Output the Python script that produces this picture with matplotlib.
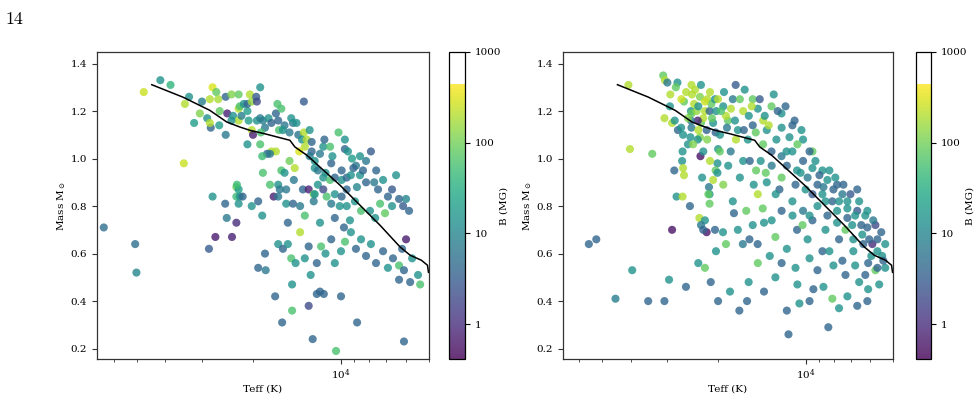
import numpy as np
import matplotlib
matplotlib.use("Agg")
import matplotlib.pyplot as plt
from matplotlib.colors import LogNorm, ListedColormap
from matplotlib.ticker import FixedLocator, FixedFormatter, NullLocator, NullFormatter

plt.rcParams['font.family'] = ['DejaVu Serif']
plt.rcParams['mathtext.fontset'] = 'dejavuserif'

# model track (Teff in K, mass in Msun)
curve_teff = [44400, 34800, 28100, 24600, 22200, 20500, 18300, 14960, 14380, 13080,
              10080, 7350, 6280, 5800, 5310, 5060, 5020]
curve_mass = [1.311, 1.259, 1.203, 1.154, 1.133, 1.119, 1.105, 1.077, 1.049, 1.014,
              0.888, 0.719, 0.628, 0.593, 0.572, 0.551, 0.521]

# left panel sample
left_teff = [64800, 47300, 41500, 38300, 34200, 33100, 31800, 34500, 30400, 29900,
             28700, 27900, 28100, 28100, 27500, 26700, 26300, 26000, 26100, 24800,
             24500, 24800, 23700, 23400, 22400, 22400, 22400, 27500, 24900, 24600,
             22800, 22800, 22400, 22400, 22800, 26900, 23600, 50600, 50100, 28300,
             23700, 22200, 21900, 21500, 20900, 20900, 20500, 20200, 20700, 20200,
             20000, 19500, 19400, 18900, 20900, 19400, 18900, 18500, 18200, 18800,
             18900, 17700, 17300, 16700, 16500, 16400, 16000, 15600, 16300, 15800,
             15000, 14600, 14800, 14200, 13400, 14000, 13400, 13600, 13100, 13300,
             13900, 16700, 17300, 17900, 17500, 18600, 15000, 16000, 15600, 14400,
             18500, 17500, 16400, 16200, 15400, 14500, 13500, 12900, 12400, 22700,
             22200, 21700, 20200, 19200, 17000, 16400, 15400, 14600, 13800, 12800,
             12600, 12600, 12800, 12300, 12300, 11800, 12000, 11500, 11400, 11300,
             10900, 10800, 10700, 10200, 9700, 9700, 11500, 10900, 10500, 9950,
             9950, 9560, 9560, 10500, 11200, 9950, 12000, 11500, 12300, 12400,
             10800, 10100, 9560, 6090, 10400, 12500, 8810, 15900, 16800,
             9470, 9170, 8890, 8610, 8410, 8820, 8210, 7900, 7700, 7470,
             7180, 6910, 6690, 6330, 6130, 5990, 5850, 6690, 7350, 7960,
             8540, 8960, 9320, 9770, 7640, 7070, 9070, 8610, 8210, 9250,
             7580, 6480, 18200, 19200, 18100, 16400, 15800, 15200, 14800, 14300,
             13800, 13300, 12900, 12700, 12100, 11700, 11300, 10800, 10500, 10000,
             9690, 9250, 8890, 8540, 8210, 7900, 7590, 7180, 6910, 6640,
             6330, 6090, 5990, 5710, 6330, 5800, 5450, 6180, 11800, 11450,
             12100, 10000, 12900, 14700, 5360, 14700, 18600, 15200, 13300, 11800,
             10500]
left_mass = [0.71, 1.28, 1.33, 1.31, 1.23, 1.26, 1.15, 0.98, 1.19, 1.24,
             1.17, 1.13, 1.15, 1.25, 1.30, 1.28, 1.25, 1.20, 1.14, 1.26,
             1.19, 1.10, 1.27, 1.18, 1.27, 1.16, 1.21, 0.84, 0.81, 0.75,
             0.88, 0.84, 0.87, 0.81, 0.73, 0.67, 0.67, 0.64, 0.52, 0.62,
             1.16, 1.22, 1.18, 1.23, 1.20, 1.23, 1.27, 1.24, 1.16, 1.12,
             1.10, 1.26, 1.24, 1.30, 1.06, 1.16, 1.17, 1.16, 1.13, 1.11,
             1.06, 1.17, 1.15, 1.19, 1.23, 1.16, 1.21, 1.14, 1.12, 1.12,
             1.11, 1.15, 1.17, 1.15, 1.24, 1.10, 1.11, 1.08, 1.08, 1.05,
             1.03, 1.03, 1.03, 1.02, 1.02, 1.01, 0.99, 0.95, 0.94, 0.96,
             0.94, 0.89, 0.89, 0.87, 0.87, 0.91, 0.87, 0.87, 0.85, 0.89,
             0.84, 0.84, 0.80, 0.82, 0.84, 0.84, 0.81, 0.81, 0.80, 1.12,
             1.03, 1.07, 1.01, 0.99, 0.96, 1.02, 0.95, 1.05, 1.08, 0.94,
             1.05, 0.98, 1.01, 1.11, 1.04, 1.08, 0.92, 0.91, 0.92, 0.95,
             0.91, 0.92, 0.87, 0.85, 0.84, 0.84, 0.89, 0.87, 0.85, 0.82,
             0.81, 0.80, 0.80, 0.23, 0.19, 0.24, 0.31, 0.31, 0.42,
             1.03, 1.00, 0.97, 0.93, 0.95, 0.88, 0.90, 1.03, 0.90, 0.87,
             0.91, 0.84, 0.87, 0.83, 0.80, 0.83, 0.78, 0.80, 0.81, 0.78,
             0.78, 0.82, 0.74, 0.71, 0.75, 0.77, 0.96, 1.01, 0.99, 0.93,
             0.95, 0.93, 0.60, 0.54, 0.53, 0.64, 0.62, 0.64, 0.58, 0.56,
             0.69, 0.58, 0.63, 0.51, 0.56, 0.63, 0.60, 0.66, 0.56, 0.61,
             0.65, 0.69, 0.62, 0.66, 0.59, 0.64, 0.56, 0.61, 0.54, 0.58,
             0.55, 0.53, 0.66, 0.58, 0.49, 0.48, 0.51, 0.62, 0.44, 0.43,
             0.43, 0.42, 0.38, 0.36, 0.47, 0.47, 0.76, 0.73, 0.76, 0.73,
             0.75]
left_b = [5, 250, 15, 40, 200, 15, 20, 250, 120, 8,
          15, 4, 200, 200, 300, 80, 180, 80, 20, 4,
          0.8, 7, 120, 15, 80, 200, 200, 15, 4, 7,
          100, 50, 20, 15, 1, 0.7, 0.8, 5, 10, 3,
          15, 60, 8, 15, 20, 4, 200, 150, 20, 200,
          0.8, 3, 2, 15, 15, 15, 8, 8, 7, 60,
          60, 15, 4, 4, 60, 4, 60, 7, 60, 15,
          7, 7, 15, 15, 3, 6, 200, 15, 200, 200,
          300, 200, 200, 4, 7, 50, 100, 60, 15, 200,
          60, 60, 15, 7, 7, 7, 4, 0.8, 100, 50,
          15, 4, 15, 4, 0.8, 7, 15, 4, 7, 15,
          4, 4, 7, 15, 15, 7, 7, 15, 4, 15,
          60, 4, 15, 60, 4, 15, 15, 60, 4, 4,
          15, 4, 4, 15, 60, 4, 15, 2, 15, 7,
          7, 15, 15, 4, 60, 4, 4, 4, 4,
          15, 20, 7, 15, 4, 10, 4, 3, 7, 4,
          15, 4, 3, 4, 3, 10, 4, 15, 60, 15,
          60, 15, 15, 4, 15, 80, 4, 15, 7, 15,
          4, 15, 4, 4, 7, 15, 4, 15, 60, 15,
          200, 15, 4, 15, 4, 60, 15, 4, 15, 15,
          60, 15, 4, 15, 4, 15, 4, 4, 15, 4,
          60, 4, 0.7, 15, 4, 4, 15, 4, 4, 4,
          4, 4, 2, 60, 60, 15, 15, 4, 60, 15,
          4]

# right panel sample
right_teff = [40700, 30900, 30500, 29900, 27600, 24700, 40200, 33700, 30600, 29300,
              28800, 28200, 27500, 26800, 26400, 26200, 26500, 25400, 24900, 24700,
              24800, 24700, 24600, 24200, 23700, 23400, 23100, 22900, 22500, 22200,
              21800, 21400, 21100, 20800, 20500, 20300, 20400, 21900, 21800, 23100,
              23500, 23500, 23000, 20000, 24800, 26600, 26400, 26200, 28300, 27800,
              26500, 25000, 23200, 22700, 21500, 21400, 21600, 21400, 20800, 20100,
              20400, 20100, 22200, 22900, 21900, 20500, 22500, 28800, 52500, 55700,
              45100,
              19200, 18500, 17800, 17100, 16400, 15800, 15200, 14600, 14000, 13600,
              13100, 12600, 12100, 11600, 11100, 10700, 10200, 9840, 9470, 9100,
              8750, 8410, 8090, 7790, 7470, 7180, 6910, 6640, 6380, 6130,
              5890, 5660, 5450, 6130, 5750, 6640, 7180, 7790, 8750, 9470,
              10200, 11100, 12100, 13100, 14000, 15200, 16200, 17400, 18800, 19700,
              18100, 16400, 14800, 13600, 12300, 11100, 10200, 9470, 8540, 7670,
              6850, 6090, 5320, 14600, 16000, 17800, 19200, 17100, 15600, 13900,
              12700, 11600, 10700, 9690, 8750, 8020, 7290, 6540, 5750,
              39500, 34800, 30600, 29500, 25800, 23400, 22200, 21200, 20000, 18200,
              16900, 15900, 15700, 14600, 13900, 12700, 11600, 11450, 10500, 9400,
              8680, 8350, 8090, 7670, 6640, 6090, 5660,
              29200, 27950, 26750, 25770, 25380, 24000, 22910, 22200, 21330, 20990,
              20020, 19550, 19090, 18640, 18060, 17500, 16830, 16310, 15680, 15320,
              14840, 14380, 13820, 13390, 12870, 12470, 12090, 11720, 11360, 10910,
              10670, 10330, 23390, 24380, 22490, 21330, 19720, 18460, 17360, 16830,
              15560, 15080, 14270, 13710, 13080, 12670, 12090, 11630, 10830, 10400,
              10000, 9690, 9250, 8960, 8680, 8280, 8020, 7900, 7670, 7410,
              7180, 7010, 6750, 6540, 6430, 6230, 6040, 5850, 5660, 5490,
              5320, 5400, 5940, 6330, 6850, 7290, 7790, 8410, 9100, 9470,
              8540, 9690, 10240, 11090, 12090, 13080, 14040, 15200, 16440, 17640,
              18790, 20340, 19240, 14620, 13280, 12090, 10830, 9840, 9100, 8280,
              7470, 6750, 6230, 10670, 9690, 7180, 6130, 5580]
right_mass = [1.31, 1.35, 1.33, 1.32, 1.32, 1.31, 1.04, 1.02, 1.17, 1.22,
              1.15, 1.16, 1.12, 1.13, 1.10, 1.24, 1.03, 1.06, 1.09, 1.13,
              1.20, 1.19, 1.27, 1.23, 1.20, 1.22, 1.26, 1.15, 1.17, 1.20,
              1.25, 1.20, 1.23, 1.15, 1.25, 1.20, 1.11, 1.12, 1.08, 1.09,
              1.08, 1.16, 1.01, 1.04, 1.16, 0.99, 0.96, 0.93, 0.95, 0.84,
              0.84, 0.80, 0.75, 0.92, 0.88, 0.85, 0.85, 0.81, 0.91, 0.98,
              0.95, 0.94, 0.74, 0.72, 0.69, 0.70, 0.70, 0.70, 0.66, 0.64,
              0.41,
              1.22, 1.16, 1.25, 1.12, 1.20, 1.08, 1.14, 1.21, 1.06, 1.12,
              1.03, 1.08, 1.01, 0.97, 1.03, 0.95, 0.99, 0.92, 0.96, 0.89,
              0.85, 0.91, 0.82, 0.78, 0.85, 0.75, 0.72, 0.78, 0.68, 0.71,
              0.64, 0.66, 0.59, 0.78, 0.72, 0.87, 0.82, 0.89, 0.95, 1.03,
              1.08, 1.14, 1.19, 1.22, 1.16, 1.25, 1.29, 1.31, 1.18, 1.10,
              1.03, 0.99, 0.95, 0.90, 0.87, 0.82, 0.78, 0.74, 0.70, 0.66,
              0.61, 0.56, 0.54, 0.85, 0.78, 0.82, 0.89, 0.70, 0.66, 0.73,
              0.67, 0.62, 0.70, 0.58, 0.61, 0.55, 0.51, 0.48, 0.53,
              0.53, 0.40, 0.40, 0.49, 0.46, 0.56, 0.54, 0.48, 0.40, 0.44,
              0.36, 0.40, 0.48, 0.56, 0.44, 0.50, 0.36, 0.26, 0.39, 0.45,
              0.46, 0.29, 0.41, 0.37, 0.38, 0.45, 0.54,
              1.27, 1.30, 1.25, 1.28, 1.17, 1.29, 1.31, 1.24, 1.28, 1.17,
              1.25, 1.20, 1.28, 1.13, 1.21, 1.16, 1.25, 1.12, 1.18, 1.22,
              1.11, 1.25, 1.18, 1.14, 1.27, 1.20, 1.13, 1.22, 1.09, 1.16,
              1.06, 1.12, 1.12, 1.06, 1.03, 0.99, 1.03, 0.97, 1.08, 0.92,
              0.99, 0.89, 0.99, 0.94, 0.97, 0.85, 0.92, 1.03, 0.89, 0.94,
              0.87, 1.03, 0.99, 0.93, 0.88, 0.95, 0.87, 0.92, 0.82, 0.89,
              0.79, 0.85, 0.76, 0.82, 0.72, 0.76, 0.66, 0.74, 0.61, 0.69,
              0.64, 0.57, 0.59, 0.64, 0.66, 0.70, 0.73, 0.76, 0.80, 0.85,
              0.82, 0.76, 0.72, 0.76, 0.78, 0.74, 0.79, 0.72, 0.64, 0.77,
              0.64, 0.61, 0.69, 0.64, 0.59, 0.56, 0.54, 0.66, 0.53, 0.61,
              0.57, 0.55, 0.51, 0.47, 0.40, 0.42, 0.40, 0.47]
right_b = [200, 80, 200, 7, 15, 200, 200, 80, 200, 15,
           200, 15, 4, 15, 15, 80, 15, 15, 15, 7,
           15, 80, 200, 200, 150, 15, 120, 80, 200, 200,
           200, 4, 80, 15, 15, 15, 4, 4, 120, 120,
           15, 0.8, 0.6, 15, 7, 15, 200, 200, 4, 15,
           200, 4, 200, 15, 7, 15, 80, 80, 200, 15,
           80, 15, 15, 7, 0.6, 4, 4, 0.6, 4, 4,
           8,
           15, 80, 7, 15, 200, 15, 4, 15, 80, 15,
           4, 15, 7, 4, 15, 15, 4, 7, 15, 4,
           15, 15, 4, 15, 7, 4, 15, 3, 15, 4,
           1, 4, 15, 15, 2, 4, 15, 4, 15, 80,
           15, 4, 15, 80, 200, 80, 15, 3, 200, 15,
           7, 15, 80, 15, 4, 15, 7, 4, 15, 4,
           15, 4, 15, 200, 80, 15, 120, 15, 4, 15,
           80, 15, 4, 15, 4, 15, 4, 15, 80,
           15, 4, 4, 15, 4, 15, 80, 4, 4, 15,
           4, 4, 15, 80, 4, 15, 4, 4, 15, 4,
           15, 4, 80, 15, 4, 15, 4,
           200, 80, 250, 200, 120, 200, 15, 250, 200, 80,
           200, 60, 15, 7, 200, 15, 80, 4, 15, 200,
           80, 3, 15, 200, 15, 4, 15, 4, 15, 4,
           80, 15, 200, 120, 15, 200, 80, 15, 200, 15,
           4, 15, 15, 80, 7, 15, 80, 15, 4, 15,
           15, 4, 15, 4, 7, 15, 4, 15, 15, 4,
           15, 3, 15, 15, 4, 15, 4, 7, 15, 4,
           15, 4, 15, 4, 15, 80, 15, 4, 15, 3,
           15, 15, 80, 15, 4, 15, 80, 15, 7, 4,
           80, 15, 15, 4, 15, 4, 15, 15, 4, 15,
           4, 15, 4, 15, 4, 15, 4, 15]

B_MIN, B_MAX, B_TOP = 0.41, 1000, 450
TEFF_LIM = (68500, 5000)
MASS_LIM = (0.155, 1.45)

# viridis up to ~450 MG, blank above
norm = LogNorm(vmin=B_MIN, vmax=B_MAX)
f_end = (np.log10(B_TOP) - np.log10(B_MIN)) / (np.log10(B_MAX) - np.log10(B_MIN))
vir = plt.get_cmap('viridis')
cols = []
for f in np.linspace(0, 1, 512):
    cols.append(vir(f / f_end) if f <= f_end else (1, 1, 1, 1))
cmap = ListedColormap(cols)

fig = plt.figure(figsize=(9.79, 3.97), dpi=100)
fig.text(0.006, 0.94, "14", fontsize=13, family='cmr10')

panels = [
    ([0.0988, 0.095, 0.3394, 0.7748], [0.4589, 0.095, 0.0160, 0.7748],
     left_teff, left_mass, left_b),
    ([0.5748, 0.095, 0.3374, 0.7748], [0.9353, 0.095, 0.0153, 0.7748],
     right_teff, right_mass, right_b),
]

for ax_box, cb_box, teff, mass, bfield in panels:
    ax = fig.add_axes(ax_box)
    cax = fig.add_axes(cb_box)
    sc = ax.scatter(teff, mass, c=bfield, cmap=cmap, norm=norm, s=34,
                    alpha=0.8, linewidths=0)
    ax.plot(curve_teff, curve_mass, color='black', lw=1.1)
    ax.set_xscale('log')
    ax.set_xlim(*TEFF_LIM)
    ax.set_ylim(*MASS_LIM)
    ax.set_yticks([0.2, 0.4, 0.6, 0.8, 1.0, 1.2, 1.4])
    ax.xaxis.set_minor_formatter(NullFormatter())
    ax.set_xlabel('Teff (K)', fontsize=7.5, labelpad=2)
    ax.set_ylabel(r'Mass M$_\odot$', fontsize=7.5, labelpad=2)
    ax.tick_params(labelsize=7.5, length=3.5, width=0.8, color='#333333')
    ax.tick_params(axis='x', pad=2)
    ax.tick_params(which='minor', length=2, width=0.6, color='#333333')
    for sp in ax.spines.values():
        sp.set_color('#333333')
        sp.set_linewidth(0.9)

    cb = fig.colorbar(sc, cax=cax)
    cb.solids.set_alpha(0.8)
    cb.set_label('B (MG)', fontsize=7.5, labelpad=-1)
    cax.yaxis.set_major_locator(FixedLocator([1, 10, 100, 1000]))
    cax.yaxis.set_major_formatter(FixedFormatter(['1', '10', '100', '1000']))
    cax.yaxis.set_minor_locator(NullLocator())
    cax.tick_params(labelsize=7.5, length=3.5, width=0.8)
    cb.outline.set_linewidth(0.9)

fig.savefig('out.png', dpi=100)
